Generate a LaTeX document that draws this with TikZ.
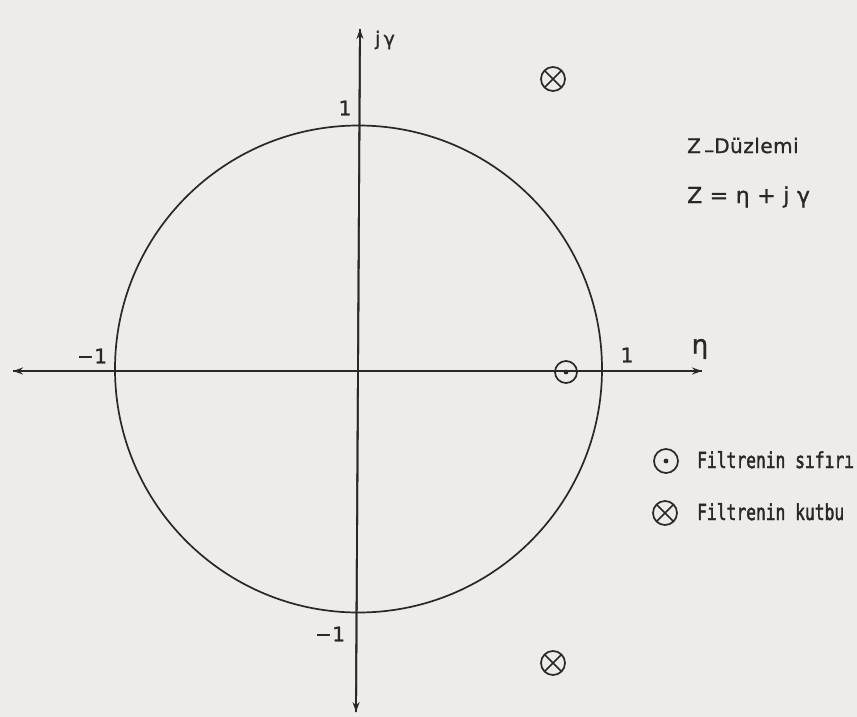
\documentclass[tikz,border=0pt]{standalone}
\usepackage{fontspec}
\setmainfont{DejaVu Sans}[LetterSpace=2.5,FakeBold=1.2]
\newfontfamily\legfont{DejaVu Sans Mono}[FakeBold=2.2]
\usetikzlibrary{arrows.meta}
\definecolor{paper}{RGB}{238,236,232}
\definecolor{ink}{RGB}{40,40,40}
\tikzset{
  axis/.style={ink,line width=1.8pt,-{Stealth[length=10pt,width=7pt]}},
  ucircle/.style={draw=ink,line width=1.7pt,circle,inner sep=0pt,minimum size=487pt},
  zeromark/.style={draw=ink,line width=1.7pt,circle,inner sep=0pt,minimum size=22pt,
    path picture={\fill[ink] (path picture bounding box.center) circle (2.4pt);}},
  polemark/.style={draw=ink,line width=1.7pt,circle,inner sep=0pt,minimum size=24pt,
    path picture={\draw[ink,line width=1.7pt]
      (path picture bounding box.north west) -- (path picture bounding box.south east)
      (path picture bounding box.north east) -- (path picture bounding box.south west);}},
  lbl/.style={text=ink,font=\fontsize{20}{22}\selectfont,inner sep=0pt},
  txt/.style={text=ink,font=\fontsize{20}{22}\selectfont,inner sep=0pt,anchor=base west},
}
\newcommand{\legtext}[1]{\scalebox{0.74}[1]{\fontsize{22}{24}\legfont #1}}
\begin{document}
\begin{tikzpicture}[x=1pt,y=-1pt]
\useasboundingbox (0,0) rectangle (857,717);
\fill[paper] (0,0) rectangle (857,717);
% axes
\coordinate (xl) at (13,371);
\coordinate (xr) at (702,371);
\coordinate (yt) at (360,29);
\coordinate (yb) at (356,712);
\draw[axis] (xr) -- (xl);
\draw[axis] (xl) -- (xr);
\draw[axis] (yb) -- (yt);
\draw[axis] (yt) -- (yb);
% unit circle
\node[ucircle] (uc) at (358.5,369) {};
% labels
\node[lbl,font=\fontsize{19}{21}\selectfont] (jg) at (385,40) {j\,γ};
\node[lbl] (one1) at (345,108) {1};
\node[lbl] (mone1) at (92,356) {−1};
\node[lbl] (one2) at (627,355) {1};
\node[lbl] (mone2) at (330,634) {−1};
\node[lbl,font=\fontsize{26}{28}\selectfont] (eta) at (700,349) {η};
% zero and poles
\node[zeromark] (z0) at (566,372) {};
\node[polemark] (p1) at (553,79) {};
\node[polemark] (p2) at (553,663) {};
% plane text
\node[txt] (t1) at (687,153) {Z\,\raisebox{-0.35ex}{–}Düzlemi};
\node[txt,font=\fontsize{22}{24}\selectfont] (t2) at (687,203) {Z = η + j γ};
% legend
\node[zeromark,minimum size=24pt] (lz) at (666,461) {};
\node[txt] (lzt) at (697,468) {\legtext{Filtrenin sıfırı}};
\node[polemark] (lp) at (665,513) {};
\node[txt] (lpt) at (697,520) {\legtext{Filtrenin kutbu}};
\end{tikzpicture}
\end{document}
